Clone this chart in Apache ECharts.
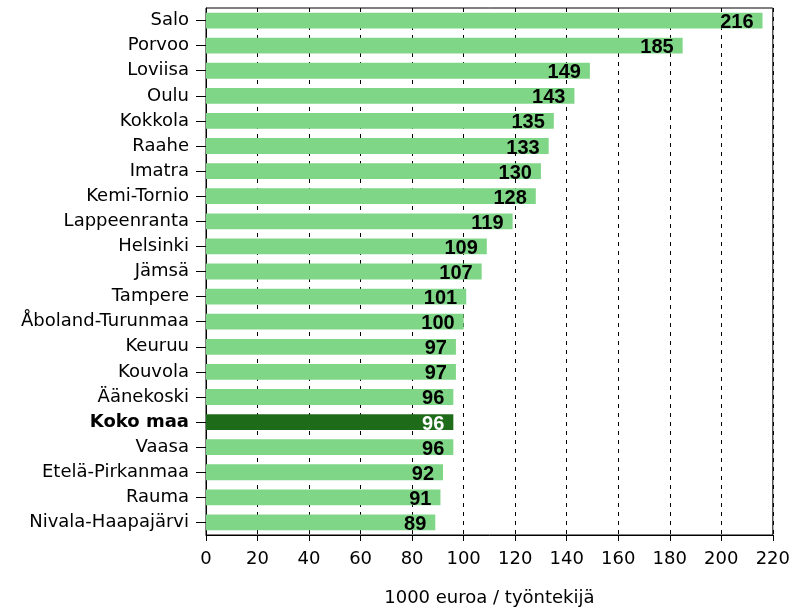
<!DOCTYPE html>
<html><head><meta charset="utf-8">
<script src="https://cdn.jsdelivr.net/npm/echarts@6/dist/echarts.min.js"></script>
<style>html,body{margin:0;padding:0;background:#fff}#c{width:793px;height:612px}</style>
</head><body><div id="c"></div>
<script>
const categories = ['Salo','Porvoo','Loviisa','Oulu','Kokkola','Raahe','Imatra','Kemi-Tornio','Lappeenranta','Helsinki','Jämsä','Tampere','Åboland-Turunmaa','Keuruu','Kouvola','Äänekoski','Koko maa','Vaasa','Etelä-Pirkanmaa','Rauma','Nivala-Haapajärvi'];
const values = [216,185,149,143,135,133,130,128,119,109,107,101,100,97,97,96,96,96,92,91,89];
const highlight = 'Koko maa';
const xTicks = [0,20,40,60,80,100,120,140,160,180,200,220];

const chart = echarts.init(document.getElementById('c'), null, {renderer:'canvas'});
const font = 'DejaVu Sans, Verdana, sans-serif';
const boldFont = '"Liberation Sans", Arial, sans-serif';
chart.setOption({
  animation:false,
  grid:{left:206,right:16,top:8,bottom:76,show:true,borderColor:'#000',borderWidth:1},
  xAxis:{type:'value',min:xTicks[0],max:xTicks[xTicks.length-1],interval:20,
    name:'1000 euroa / työntekijä',nameLocation:'middle',nameGap:54,
    nameTextStyle:{fontFamily:font,fontSize:18,color:'#000'},
    axisLine:{show:true,lineStyle:{color:'#000',width:1}},
    axisTick:{show:true,length:6,lineStyle:{color:'#000'}},
    axisLabel:{fontFamily:font,fontSize:18,color:'#000',margin:15,formatter:v=>String(v)},
    splitLine:{show:true,lineStyle:{color:'#000',type:[4,5],width:1}}
  },
  yAxis:{type:'category',data:categories,inverse:true,
    axisLine:{show:true,lineStyle:{color:'#000',width:1}},
    axisTick:{show:true,length:10,alignWithLabel:true,lineStyle:{color:'#000'}},
    axisLabel:{fontFamily:font,fontSize:18,color:'#000',margin:17,
      formatter:v=> v===highlight ? '{b|'+v+'}' : v,
      rich:{b:{fontFamily:font,fontSize:18,fontWeight:'bold',color:'#000'}}}
  },
  series:[{type:'bar',barCategoryGap:'37%',
    data:values.map((v,i)=>({value:v,
      itemStyle:{color:categories[i]===highlight?'#1e6b1a':'#80d687'},
      label:{color:categories[i]===highlight?'#fff':'#000'}})),
    label:{show:true,position:'insideRight',distance:9,offset:[0,2],fontFamily:boldFont,fontSize:20,fontWeight:'bold'}
  }]
});
</script></body></html>
